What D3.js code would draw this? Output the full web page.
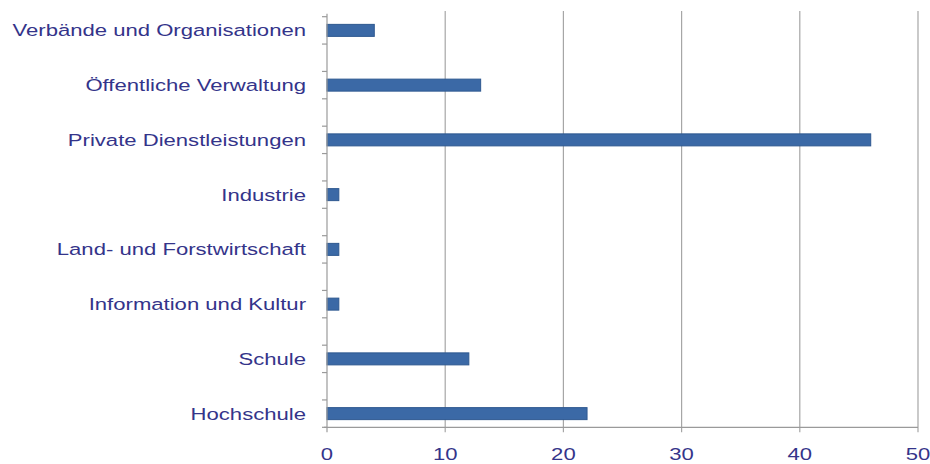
<!DOCTYPE html>
<head>
<meta charset="utf-8">
<style>
body { margin: 0; background: #fff; }
text { font-family: "Liberation Sans", Arial, sans-serif; font-size: 17px; fill: #34348a; }
.grid line { stroke: #a6a6a6; stroke-width: 1.2px; }
.axis line { stroke: #9a9a9a; stroke-width: 1.2px; }
.bar { fill: #3b69a6; stroke: #2e5890; stroke-width: 1px; }
</style>
<script src="https://d3js.org/d3.v7.min.js"></script>
</head>
<body>
<svg width="930" height="464"></svg>
<script>
var categories = ["Verbände und Organisationen", "Öffentliche Verwaltung", "Private Dienstleistungen",
  "Industrie", "Land- und Forstwirtschaft", "Information und Kultur", "Schule", "Hochschule"];
var values = [4, 13, 46, 1, 1, 1, 12, 22];
var xTicks = [0, 10, 20, 30, 40, 50];

var svg = d3.select("svg");

var x = d3.scaleLinear().domain([0, 50]).range([327, 918]);
var y = d3.scaleBand().domain(categories).range([3, 441]).padding(0);

var step = y.step(),
    plotTop = 11,
    plotBottom = y(categories[categories.length - 1]) + step * 0.75,
    barH = 12,
    stretch = 1.3;

// vertical gridlines
svg.append("g").attr("class", "grid")
  .selectAll("line")
  .data(xTicks.slice(1))
  .enter().append("line")
    .attr("x1", function(d) { return x(d); })
    .attr("x2", function(d) { return x(d); })
    .attr("y1", plotTop)
    .attr("y2", plotBottom + 5);

// bars
svg.append("g")
  .selectAll("rect")
  .data(values)
  .enter().append("rect")
    .attr("class", "bar")
    .attr("x", x(0))
    .attr("y", function(d, i) { return y(categories[i]) + step / 2 - barH / 2; })
    .attr("width", function(d) { return x(d) - x(0); })
    .attr("height", barH);

// axes
var axis = svg.append("g").attr("class", "axis");
axis.append("line")
    .attr("x1", x(0)).attr("x2", x(0))
    .attr("y1", y(categories[0]) + step * 0.25 - 3).attr("y2", plotBottom + 5);
axis.append("line")
    .attr("x1", x(0) - 3).attr("x2", x(50))
    .attr("y1", plotBottom).attr("y2", plotBottom);

var tickYs = [];
categories.forEach(function(c) {
  tickYs.push(y(c) + step * 0.25, y(c) + step * 0.75);
});
axis.selectAll(".ytick")
  .data(tickYs)
  .enter().append("line")
    .attr("class", "ytick")
    .attr("x1", x(0) - 5).attr("x2", x(0))
    .attr("y1", function(d) { return d; })
    .attr("y2", function(d) { return d; });

// category labels
svg.append("g")
  .selectAll("text")
  .data(categories)
  .enter().append("text")
    .attr("transform", function(d) {
      return "translate(306," + (y(d) + step / 2) + ") scale(" + stretch + ",1)";
    })
    .attr("text-anchor", "end")
    .attr("dy", "0.35em")
    .text(function(d) { return d; });

// value labels
svg.append("g")
  .selectAll("text")
  .data(xTicks)
  .enter().append("text")
    .attr("transform", function(d) {
      return "translate(" + x(d) + ",454) scale(" + stretch + ",1)";
    })
    .attr("text-anchor", "middle")
    .attr("dy", "0.35em")
    .text(function(d) { return d; });
</script>
</body>
